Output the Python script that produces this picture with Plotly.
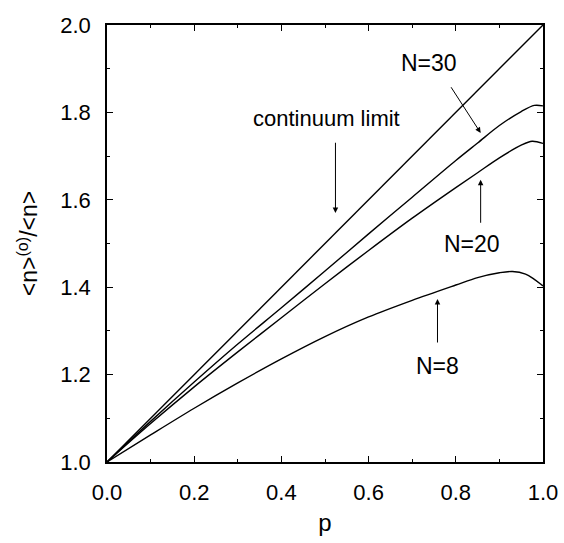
import plotly.graph_objects as go

# ---- data ----
p_cont = [0.0, 1.0]
v_cont = [1.0, 2.0]

p_n30 = [0.0, 0.1, 0.2, 0.3, 0.4, 0.5, 0.6, 0.7, 0.8, 0.85, 0.9, 0.95, 0.98, 1.0]
v_n30 = [1.0, 1.093, 1.183, 1.270, 1.353, 1.437, 1.522, 1.606, 1.690, 1.730, 1.770, 1.802, 1.816, 1.815]

p_n20 = [0.0, 0.1, 0.2, 0.3, 0.4, 0.5, 0.6, 0.7, 0.8, 0.85, 0.9, 0.95, 0.975, 1.0]
v_n20 = [1.0, 1.088, 1.172, 1.252, 1.330, 1.408, 1.484, 1.558, 1.628, 1.662, 1.696, 1.725, 1.734, 1.729]

p_n8 = [0.0, 0.1, 0.2, 0.3, 0.4, 0.5, 0.6, 0.7, 0.8, 0.85, 0.9, 0.93, 0.96, 0.98, 1.0]
v_n8 = [1.0, 1.062, 1.123, 1.181, 1.236, 1.287, 1.332, 1.370, 1.405, 1.422, 1.433, 1.436, 1.430, 1.418, 1.403]

x_ticks = [0.0, 0.2, 0.4, 0.6, 0.8, 1.0]
y_ticks = [1.0, 1.2, 1.4, 1.6, 1.8, 2.0]

# labels: (text, p, v)
labels = [
    ("continuum limit", 0.503, 1.786),
    ("N=30", 0.738, 1.913),
    ("N=20", 0.837, 1.498),
    ("N=8", 0.759, 1.219),
]
# arrows: (p_tail, v_tail, p_head, v_head)
arrows = [
    (0.524, 1.734, 0.524, 1.570),
    (0.787, 1.861, 0.857, 1.753),
    (0.857, 1.544, 0.857, 1.646),
    (0.758, 1.270, 0.758, 1.373),
]

FONT = "Liberation Sans, Arial, Helvetica, sans-serif"

fig = go.Figure()
for px, pv in [(p_cont, v_cont), (p_n30, v_n30), (p_n20, v_n20), (p_n8, v_n8)]:
    fig.add_trace(go.Scatter(x=px, y=pv, mode="lines",
                             line=dict(color="black", width=1.4, shape="spline", smoothing=0.9),
                             showlegend=False, hoverinfo="skip"))

for txt, lp, lv in labels:
    fig.add_annotation(x=lp, y=lv, xref="x", yref="y", text=txt, showarrow=False,
                       font=dict(family=FONT, size=23 if txt != "continuum limit" else 22, color="black"),
                       xanchor="center", yanchor="middle")

for pt, vt, ph, vh in arrows:
    fig.add_annotation(x=ph, y=vh, ax=pt, ay=vt, xref="x", yref="y", axref="x", ayref="y",
                       text="", showarrow=True, arrowhead=2, arrowsize=1.1, arrowwidth=1,
                       arrowcolor="black")

axis_common = dict(
    showline=True, linecolor="black", linewidth=1.5, mirror="allticks",
    ticks="inside", ticklen=6, tickwidth=1, tickcolor="black",
    showgrid=False, zeroline=False,
    tickfont=dict(family=FONT, size=22, color="black"),
    ticklabelstandoff=10,
)

fig.update_xaxes(range=[0, 1], tickvals=x_ticks, ticktext=[f"{t:.1f}" for t in x_ticks],
                 minor=dict(dtick=0.1, tick0=0, ticks="inside", ticklen=3, tickcolor="black"),
                 title=dict(text="p", font=dict(family=FONT, size=24, color="black"), standoff=10),
                 **axis_common)
fig.update_yaxes(range=[1, 2], tickvals=y_ticks, ticktext=[f"{t:.1f}" for t in y_ticks],
                 minor=dict(dtick=0.1, tick0=1, ticks="inside", ticklen=3, tickcolor="black"),
                 title=dict(text="&lt;n&gt;<sup>(o)</sup>/&lt;n&gt;",
                            font=dict(family=FONT, size=23, color="black"), standoff=16),
                 **axis_common)

fig.update_layout(width=564, height=543,
                  margin=dict(l=107, r=21, t=25, b=81, autoexpand=False),
                  paper_bgcolor="white", plot_bgcolor="white")

fig.write_html("out.html")
